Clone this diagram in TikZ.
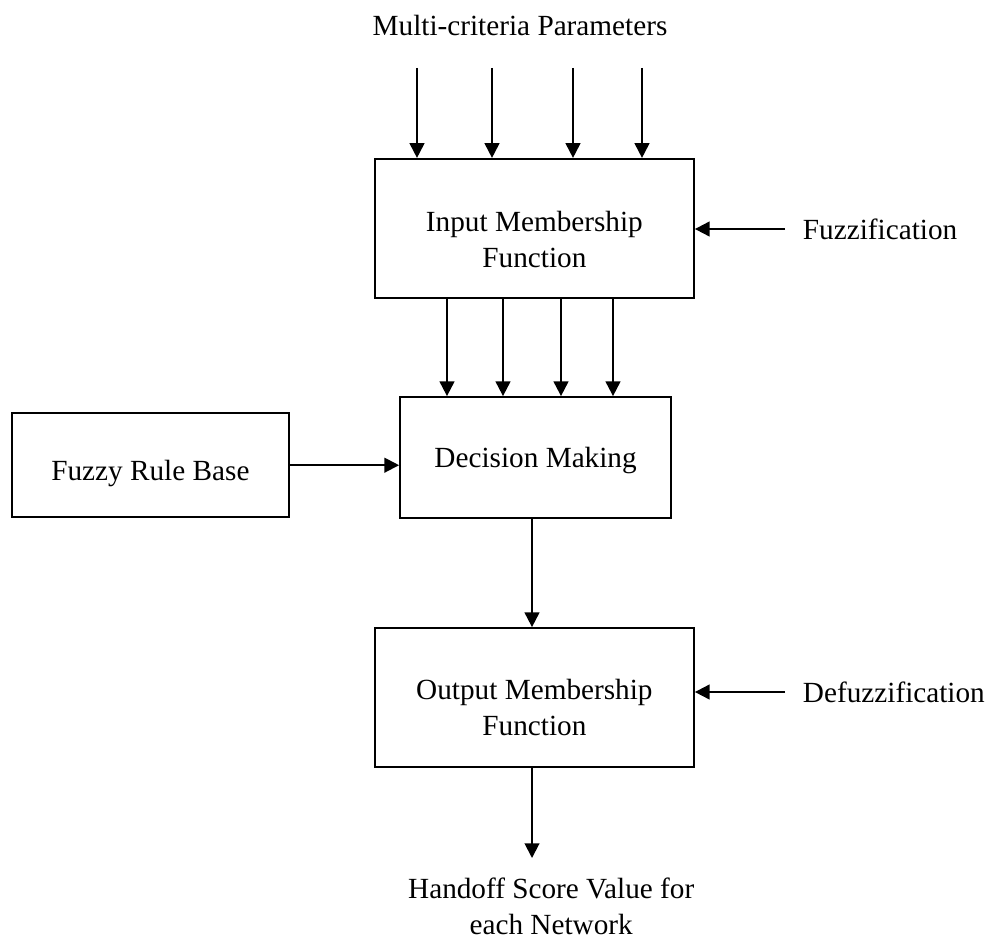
\documentclass[tikz,border=0pt]{standalone}
\usepackage{fontspec}
\setmainfont{Liberation Serif}
\usetikzlibrary{arrows.meta,positioning}

\begin{document}
\begin{tikzpicture}[
		block/.style={draw, line width=1.4pt, inner sep=0pt},
		flow/.style={line width=1.4pt, -{Triangle[length=10.5pt,width=10.5pt]}},
		every node/.style={font=\fontsize{20.8}{25.6}\selectfont, align=center}
	]
		\useasboundingbox (0,0) rectangle (24.75,-23.5);

		\node (params) at (13.0,-0.625) {Multi-criteria Parameters};

		% boxes
		\node[block, minimum width=7.975cm, minimum height=3.475cm] (inmf) at (13.36,-5.71) {};
		\node[block, minimum width=6.775cm, minimum height=3.025cm] (decide) at (13.39,-11.44) {};
		\node[block, minimum width=6.925cm, minimum height=2.6cm] (rules) at (3.76,-11.63) {};
		\node[block, minimum width=7.975cm, minimum height=3.475cm] (outmf) at (13.36,-17.44) {};

		% box texts
		\node (inmftext) at ([yshift=-0.27cm]inmf.center) {Input Membership\\Function};
		\node (decidetext) at ([yshift=-0.08cm]decide.center) {Decision Making};
		\node (rulestext) at ([yshift=-0.21cm]rules.center) {Fuzzy Rule Base};
		\node (outmftext) at ([yshift=-0.25cm]outmf.center) {Output Membership\\Function};

		\node[anchor=west] (fuzz) at (19.95,-5.725) {Fuzzification};
		\node[anchor=west] (defuzz) at (19.95,-17.3) {Defuzzification};
		\node (score) at (13.78,-22.66) {Handoff Score Value for\\each Network};
		\coordinate (scoretop) at (13.3,-21.45);

		% parameters into input membership
		\foreach \x in {10.425, 12.3, 14.325, 16.05}
			\draw[flow] (\x,-1.7) -- (\x,0 |- inmf.north);

		% input membership into decision making
		\foreach \x in {11.175, 12.575, 14.025, 15.325}
			\draw[flow] (\x,0 |- inmf.south) -- (\x,0 |- decide.north);

		\draw[flow] (rules.east) -- (rules.east -| decide.west);
		\draw[flow] (13.3,0 |- decide.south) -- (13.3,0 |- outmf.north);
		\draw[flow] (13.3,0 |- outmf.south) -- (scoretop);

		\draw[flow] (19.625,0 |- fuzz.west) -- (inmf.east |- fuzz.west);
		\draw[flow] (19.625,0 |- defuzz.west) -- (outmf.east |- defuzz.west);
	\end{tikzpicture}
\end{document}
